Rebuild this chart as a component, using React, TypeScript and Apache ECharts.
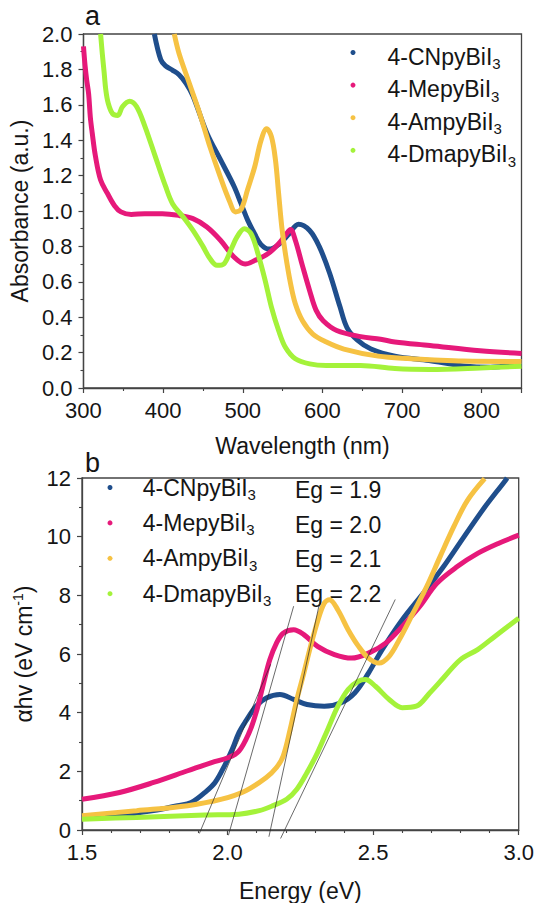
import React, { useEffect, useRef } from "react";
import * as echarts from "echarts";

const seriesNames = ["4-CNpyBiI3", "4-MepyBiI3", "4-AmpyBiI3", "4-DmapyBiI3"];
const seriesColors = ["#1f4e8c", "#e6197a", "#f6c243", "#a4f23a"];
const bandGaps = ["Eg = 1.9", "Eg = 2.0", "Eg = 2.1", "Eg = 2.2"];

// Panel a: absorbance vs wavelength (nm)
const cnWl = [389, 397, 403, 412, 420, 429, 437.5, 455, 472, 489, 498, 506, 515, 523, 533, 545, 558, 570, 584, 596, 609, 622, 631, 644, 661, 691, 734, 777, 811, 850];
const cnAbs = [2.0, 1.855, 1.82, 1.795, 1.77, 1.72, 1.65, 1.44, 1.29, 1.14, 1.04, 0.95, 0.87, 0.81, 0.785, 0.81, 0.87, 0.925, 0.89, 0.8, 0.65, 0.46, 0.34, 0.27, 0.22, 0.18, 0.155, 0.125, 0.117, 0.143];

const meWl = [300, 302, 304, 306.5, 308.6, 311, 315, 321.5, 330, 339, 347, 360, 377, 399, 420, 437.5, 455, 472, 489, 503, 515, 532, 545, 553, 560, 566, 575, 584, 592, 601, 618, 648, 673, 691, 735, 798, 850];
const meAbs = [1.93, 1.82, 1.74, 1.66, 1.53, 1.44, 1.31, 1.175, 1.1, 1.03, 0.995, 0.98, 0.985, 0.985, 0.975, 0.957, 0.91, 0.835, 0.74, 0.7, 0.72, 0.76, 0.815, 0.86, 0.895, 0.835, 0.69, 0.55, 0.44, 0.38, 0.325, 0.29, 0.275, 0.26, 0.24, 0.21, 0.195];

const amWl = [414, 420, 433, 446, 459, 472, 483, 491, 498, 506, 515, 523, 530, 536, 541, 545, 549, 553.5, 560, 566, 575, 588, 605, 627, 670, 712, 735, 777, 850];
const amAbs = [2.0, 1.89, 1.72, 1.55, 1.36, 1.19, 1.06, 0.995, 1.01, 1.12, 1.25, 1.4, 1.465, 1.42, 1.29, 1.1, 0.91, 0.76, 0.59, 0.476, 0.38, 0.305, 0.26, 0.22, 0.18, 0.165, 0.16, 0.152, 0.15];

const dmWl = [321.5, 323.6, 326, 328, 331, 336.5, 343, 349, 358, 366.6, 377, 390, 403, 412, 425, 437.5, 450, 459, 467.6, 476, 485, 493, 502, 510.6, 519, 528, 536, 545, 553.5, 566, 584, 605, 648, 691, 735, 798, 850];
const dmAbs = [2.0, 1.89, 1.78, 1.685, 1.61, 1.55, 1.54, 1.59, 1.62, 1.59, 1.48, 1.31, 1.14, 1.04, 0.967, 0.89, 0.8, 0.73, 0.693, 0.7, 0.78, 0.855, 0.9, 0.87, 0.76, 0.61, 0.457, 0.325, 0.23, 0.165, 0.136, 0.127, 0.127, 0.11, 0.105, 0.113, 0.123];

// Panel b: alpha*h*nu vs energy (eV)
const cnE = [1.5, 1.617, 1.746, 1.828, 1.875, 1.922, 1.957, 1.992, 2.016, 2.039, 2.0625, 2.098, 2.133, 2.18, 2.227, 2.273, 2.332, 2.39, 2.4375, 2.484, 2.531, 2.6, 2.672, 2.742, 2.8125, 2.883, 2.953, 2.96];
const cnV = [0.43, 0.49, 0.66, 0.83, 0.94, 1.28, 1.62, 2.24, 2.75, 3.32, 3.71, 4.22, 4.5, 4.62, 4.45, 4.28, 4.22, 4.34, 4.68, 5.35, 6.15, 7.17, 8.07, 8.98, 10.0, 11.0, 11.9, 12.0];

const meE = [1.5, 1.629, 1.746, 1.863, 1.945, 2.0035, 2.039, 2.074, 2.098, 2.121, 2.145, 2.168, 2.191, 2.227, 2.262, 2.309, 2.367, 2.426, 2.484, 2.543, 2.6, 2.66, 2.719, 2.789, 2.859, 2.93, 3.0];
const meV = [1.05, 1.28, 1.62, 2.02, 2.3, 2.47, 2.69, 3.32, 4.0, 4.9, 5.8, 6.37, 6.71, 6.83, 6.66, 6.26, 5.98, 5.86, 6.03, 6.37, 6.94, 7.62, 8.41, 8.98, 9.43, 9.77, 10.05];

const amE = [1.5, 1.6875, 1.863, 1.98, 2.0625, 2.133, 2.168, 2.191, 2.215, 2.238, 2.262, 2.285, 2.309, 2.332, 2.35, 2.379, 2.414, 2.45, 2.484, 2.52, 2.555, 2.59, 2.637, 2.684, 2.73, 2.777, 2.824, 2.883];
const amV = [0.49, 0.66, 0.83, 1.05, 1.34, 1.79, 2.13, 2.52, 3.43, 4.45, 5.35, 6.26, 7.11, 7.73, 7.85, 7.5, 6.83, 6.26, 5.86, 5.69, 5.92, 6.49, 7.39, 8.3, 9.32, 10.34, 11.24, 11.98];

const dmE = [1.5, 1.6875, 1.922, 2.039, 2.109, 2.156, 2.203, 2.238, 2.273, 2.309, 2.344, 2.379, 2.414, 2.449, 2.473, 2.508, 2.555, 2.6, 2.648, 2.695, 2.742, 2.8, 2.859, 2.918, 3.0];
const dmV = [0.37, 0.43, 0.51, 0.54, 0.66, 0.83, 1.05, 1.39, 1.96, 2.64, 3.43, 4.22, 4.79, 5.07, 5.13, 4.9, 4.45, 4.17, 4.22, 4.68, 5.19, 5.81, 6.15, 6.6, 7.22];

// Tauc tangent lines: [energy, value] end points
const tangentCN = [[1.903, -0.12], [2.148, 5.65]];
const tangentMe = [[2.003, -0.18], [2.227, 7.63]];
const tangentAm = [[2.142, -0.23], [2.32, 7.92]];
const tangentDm = [[2.182, -0.29], [2.576, 7.86]];

const FONT = "'Liberation Sans', Arial, sans-serif";
const AXIS_COLOR = "#444444";
const TEXT_COLOR = "#151515";

const zip = (xs: number[], ys: number[]) => xs.map((x, i) => [x, ys[i]]);

export default function App() {
  const ref = useRef<HTMLDivElement>(null);

  useEffect(() => {
    const chart = echarts.init(ref.current!, null, { renderer: "svg" });

    const axisCommon = {
      axisLine: { show: true, lineStyle: { color: AXIS_COLOR, width: 1.3 } },
      axisTick: { show: true, inside: false, length: 5, lineStyle: { color: AXIS_COLOR, width: 1.2 } },
      minorTick: { show: true, length: 3, lineStyle: { color: AXIS_COLOR, width: 1.1 } },
      splitLine: { show: false },
      minorSplitLine: { show: false },
    };
    const labelStyle = { fontSize: 22, color: TEXT_COLOR, fontFamily: FONT };
    const nameStyle = { fontSize: 23, color: TEXT_COLOR, fontFamily: FONT };

    const absData = [zip(cnWl, cnAbs), zip(meWl, meAbs), zip(amWl, amAbs), zip(dmWl, dmAbs)];
    const taucData = [zip(cnE, cnV), zip(meE, meV), zip(amE, amV), zip(dmE, dmV)];
    const tangents = [tangentCN, tangentMe, tangentAm, tangentDm];

    const curveSeries = (data: number[][][], idx: number) =>
      data.map((d, i) => ({
        type: "line",
        name: seriesNames[i],
        xAxisIndex: idx,
        yAxisIndex: idx,
        data: d,
        smooth: 0.35,
        showSymbol: false,
        symbol: "circle",
        color: seriesColors[i],
        itemStyle: { color: seriesColors[i] },
        lineStyle: { color: seriesColors[i], width: 5 },
        z: 3 + i,
      }));

    const tangentSeries = tangents.map((d, i) => ({
      type: "line",
      name: "tangent" + i,
      xAxisIndex: 1,
      yAxisIndex: 1,
      data: d,
      showSymbol: false,
      clip: false,
      silent: true,
      lineStyle: { color: "#2a2a2a", width: 0.7 },
      z: 10,
    }));

    const legendFormatter = (name: string) => `{n|${name.slice(0, -1)}}{s|${name.slice(-1)}}`;

    const option: any = {
      animation: false,
      backgroundColor: "#ffffff",
      title: [
        { text: "a", left: 85, top: 2, padding: 0, textStyle: { fontSize: 27, fontWeight: "normal", color: TEXT_COLOR, fontFamily: FONT } },
        { text: "b", left: 85, top: 449, padding: 0, textStyle: { fontSize: 27, fontWeight: "normal", color: TEXT_COLOR, fontFamily: FONT } },
      ],
      grid: [
        { left: 82, top: 34, width: 439.5, height: 354, show: true, borderColor: AXIS_COLOR, borderWidth: 1.3, backgroundColor: "transparent" },
        { left: 82, top: 478, width: 439.5, height: 353.5, show: true, borderColor: AXIS_COLOR, borderWidth: 1.3, backgroundColor: "transparent" },
      ],
      legend: [
        {
          orient: "vertical",
          left: 350.5,
          top: 34,
          padding: 0,
          itemGap: -4.4,
          itemWidth: 5,
          itemHeight: 5,
          icon: "circle",
          data: seriesNames,
          formatter: legendFormatter,
          textStyle: {
            fontFamily: FONT,
            color: TEXT_COLOR,
            rich: {
              n: { fontSize: 23, lineHeight: 26, padding: [8, 0, 0, 27], fontFamily: FONT, color: TEXT_COLOR },
              s: { fontSize: 15, lineHeight: 12, padding: [22, 0, 0, 0], fontFamily: FONT, color: TEXT_COLOR },
            },
          },
        },
        {
          orient: "vertical",
          left: 107.5,
          top: 473,
          padding: 0,
          itemGap: 6.4,
          itemWidth: 5,
          itemHeight: 5,
          icon: "circle",
          data: seriesNames,
          formatter: legendFormatter,
          textStyle: {
            fontFamily: FONT,
            color: TEXT_COLOR,
            rich: {
              n: { fontSize: 23, lineHeight: 34.7, padding: [0, 0, 0, 25.3], fontFamily: FONT, color: TEXT_COLOR },
              s: { fontSize: 15, lineHeight: 12, padding: [14, 0, 0, 0], fontFamily: FONT, color: TEXT_COLOR },
            },
          },
        },
      ],
      graphic: bandGaps.map((t, i) => ({
        type: "text",
        x: 295,
        y: 490 + i * 34.7,
        silent: true,
        style: { text: t, fill: TEXT_COLOR, fontSize: 23, fontFamily: FONT, verticalAlign: "middle", align: "left" },
      })),
      xAxis: [
        {
          ...axisCommon,
          type: "value",
          gridIndex: 0,
          min: 300,
          max: 850,
          interval: 100,
          minorTick: { ...axisCommon.minorTick, splitNumber: 2 },
          axisLabel: { ...labelStyle, margin: 11, showMaxLabel: false },
          name: "Wavelength (nm)",
          nameLocation: "middle",
          nameGap: 46,
          nameTextStyle: nameStyle,
        },
        {
          ...axisCommon,
          type: "value",
          gridIndex: 1,
          min: 1.5,
          max: 3.0,
          interval: 0.5,
          minorTick: { ...axisCommon.minorTick, splitNumber: 5 },
          axisLabel: { ...labelStyle, margin: 11, formatter: (v: number) => v.toFixed(1) },
          name: "Energy (eV)",
          nameLocation: "middle",
          nameGap: 49,
          nameTextStyle: nameStyle,
        },
      ],
      yAxis: [
        {
          ...axisCommon,
          type: "value",
          gridIndex: 0,
          min: 0,
          max: 2.0,
          interval: 0.2,
          minorTick: { ...axisCommon.minorTick, splitNumber: 2 },
          axisLabel: { ...labelStyle, margin: 11, formatter: (v: number) => v.toFixed(1) },
          name: "Absorbance (a.u.)",
          nameLocation: "middle",
          nameGap: 48,
          nameTextStyle: nameStyle,
        },
        {
          ...axisCommon,
          type: "value",
          gridIndex: 1,
          min: 0,
          max: 12,
          interval: 2,
          minorTick: { ...axisCommon.minorTick, splitNumber: 2 },
          axisLabel: { ...labelStyle, margin: 11 },
          name: "{a|αhv (eV cm}{b|-1}{a|)}",
          nameLocation: "middle",
          nameGap: 40,
          nameTextStyle: {
            ...nameStyle,
            rich: {
              a: { fontSize: 23, fontFamily: FONT, color: TEXT_COLOR },
              b: { fontSize: 14, fontFamily: FONT, color: TEXT_COLOR, padding: [0, 0, 13, 0] },
            },
          },
        },
      ],
      series: [...curveSeries(absData, 0), ...curveSeries(taucData, 1), ...tangentSeries],
    };

    chart.setOption(option);
    return () => chart.dispose();
  }, []);

  return <div ref={ref} style={{ position: "fixed", left: 0, top: 0, width: 537, height: 903 }} />;
}
